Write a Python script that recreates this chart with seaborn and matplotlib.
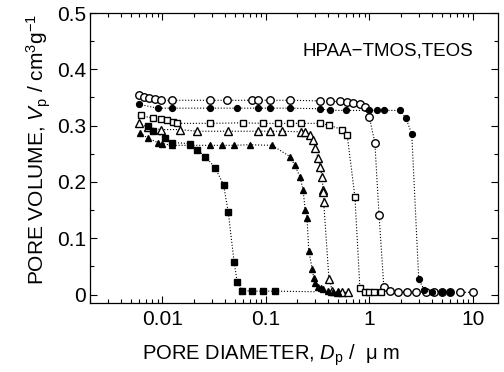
import numpy as np
import pandas as pd
import matplotlib
matplotlib.use("Agg")
import matplotlib.pyplot as plt
import seaborn as sns
from matplotlib.ticker import LogLocator, NullFormatter, MultipleLocator, FixedFormatter, FixedLocator

# pore size distribution curves
open_circle_x = [0.0059, 0.0067, 0.0075, 0.0085, 0.0098, 0.0125, 0.029, 0.042, 0.074, 0.084, 0.11, 0.17,
                 0.33, 0.42, 0.52, 0.61, 0.69, 0.81, 0.9, 1.0, 1.13, 1.24, 1.38,
                 1.6, 1.9, 2.3, 2.8, 3.5, 4.2, 5.0, 6.0, 7.5, 10.0]
open_circle_y = [0.354, 0.351, 0.349, 0.347, 0.345, 0.345, 0.345, 0.345, 0.345, 0.345, 0.345, 0.345,
                 0.344, 0.343, 0.343, 0.342, 0.340, 0.338, 0.333, 0.315, 0.270, 0.142, 0.014,
                 0.006, 0.005, 0.005, 0.005, 0.004, 0.004, 0.004, 0.004, 0.004, 0.004]

filled_circle_x = [0.0059, 0.009, 0.0125, 0.029, 0.053, 0.084, 0.11, 0.17, 0.33, 0.42, 0.6, 1.0, 1.18,
                   1.4, 1.98, 2.26, 2.57, 3.0, 3.4, 4.0, 5.0, 6.0]
filled_circle_y = [0.338, 0.331, 0.331, 0.331, 0.331, 0.331, 0.331, 0.331, 0.330, 0.327, 0.327, 0.327,
                   0.327, 0.327, 0.327, 0.313, 0.285, 0.027, 0.008, 0.005, 0.005, 0.005]

open_square_x = [0.0062, 0.0082, 0.0096, 0.0112, 0.0127, 0.014, 0.029, 0.06, 0.094, 0.13, 0.17, 0.22,
                 0.33, 0.41, 0.54, 0.61, 0.726, 0.81, 0.9, 1.0, 1.1, 1.3]
open_square_y = [0.318, 0.313, 0.312, 0.310, 0.306, 0.304, 0.304, 0.305, 0.304, 0.304, 0.304, 0.304,
                 0.304, 0.301, 0.293, 0.284, 0.173, 0.012, 0.005, 0.004, 0.004, 0.004]

open_triangle_x = [0.0059, 0.0073, 0.0096, 0.0149, 0.0218, 0.0433, 0.084, 0.11, 0.144, 0.22, 0.24,
                   0.268, 0.286, 0.30, 0.32, 0.334, 0.35, 0.357, 0.36, 0.362, 0.407, 0.44, 0.5, 0.55, 0.62]
open_triangle_y = [0.304, 0.297, 0.293, 0.293, 0.290, 0.290, 0.290, 0.290, 0.290, 0.289, 0.288,
                   0.283, 0.274, 0.260, 0.242, 0.227, 0.209, 0.186, 0.182, 0.165, 0.028, 0.006, 0.004,
                   0.004, 0.004]

filled_triangle_x = [0.0061, 0.0072, 0.009, 0.010, 0.0125, 0.0186, 0.029, 0.038, 0.049, 0.0705, 0.115,
                     0.171, 0.19, 0.214, 0.229, 0.24, 0.25, 0.26, 0.28, 0.29, 0.30, 0.32, 0.34, 0.36,
                     0.4, 0.45, 0.5]
filled_triangle_y = [0.287, 0.278, 0.270, 0.268, 0.265, 0.265, 0.265, 0.265, 0.265, 0.266, 0.265,
                     0.245, 0.230, 0.209, 0.186, 0.150, 0.136, 0.078, 0.046, 0.030, 0.021, 0.014, 0.011,
                     0.009, 0.007, 0.005, 0.005]

filled_square_x = [0.0073, 0.0082, 0.0107, 0.0125, 0.0186, 0.0218, 0.026, 0.0324, 0.039, 0.0433, 0.0494,
                   0.0528, 0.059, 0.074, 0.094, 0.123]
filled_square_y = [0.300, 0.290, 0.278, 0.270, 0.268, 0.257, 0.245, 0.225, 0.195, 0.147, 0.057,
                   0.023, 0.007, 0.006, 0.006, 0.006]
filled_square_tail_x = [0.123, 0.3]
filled_square_tail_y = [0.006, 0.005]

series = [
    ("open circle", open_circle_x, open_circle_y, "o", "white", 5.4),
    ("filled circle", filled_circle_x, filled_circle_y, "o", "black", 4.2),
    ("open square", open_square_x, open_square_y, "s", "white", 5.0),
    ("open triangle", open_triangle_x, open_triangle_y, "^", "white", 5.4),
    ("filled triangle", filled_triangle_x, filled_triangle_y, "^", "black", 5.0),
    ("filled square", filled_square_x, filled_square_y, "s", "black", 4.6),
]

sns.set_style("ticks")
plt.rcParams['font.family'] = ['Liberation Sans', 'DejaVu Sans']
plt.rcParams['mathtext.fontset'] = 'custom'
plt.rcParams['mathtext.rm'] = 'Liberation Sans'
plt.rcParams['mathtext.it'] = 'Liberation Sans:italic'
plt.rcParams['text.color'] = 'black'
plt.rcParams['axes.labelcolor'] = 'black'
plt.rcParams['xtick.color'] = 'black'
plt.rcParams['ytick.color'] = 'black'
plt.rcParams['axes.edgecolor'] = 'black'

fig = plt.figure(figsize=(5.04, 3.72), dpi=100)
ax = fig.add_axes([90 / 504, 1 - 303 / 372, 408 / 504, 290 / 372])

ax.plot(filled_square_tail_x, filled_square_tail_y, color="black", lw=0.8, ls=":")
for name, xs, ys, mk, fc, ms in series:
    df = pd.DataFrame({"x": xs, "y": ys})
    sns.lineplot(data=df, x="x", y="y", ax=ax, sort=False, estimator=None,
                 color="black", lw=0.8, ls=":", marker=mk, markersize=ms,
                 markerfacecolor=fc, markeredgecolor="black", markeredgewidth=1.0)

ax.set_xscale("log")
ax.set_xlim(0.002, 17.5)
ax.set_ylim(-0.015, 0.5)

ax.xaxis.set_major_locator(FixedLocator([0.01, 0.1, 1, 10]))
ax.xaxis.set_major_formatter(FixedFormatter(["0.01", "0.1", "1", "10"]))
ax.xaxis.set_minor_locator(LogLocator(base=10, subs=np.arange(2, 10), numticks=20))
ax.xaxis.set_minor_formatter(NullFormatter())
ax.yaxis.set_major_locator(FixedLocator([0, 0.1, 0.2, 0.3, 0.4, 0.5]))
ax.yaxis.set_major_formatter(FixedFormatter(["0", "0.1", "0.2", "0.3", "0.4", "0.5"]))
ax.yaxis.set_minor_locator(MultipleLocator(0.05))

ax.tick_params(which="both", direction="in", top=True, right=True, labelsize=15, width=0.8)
ax.tick_params(axis="x", pad=5)
ax.tick_params(axis="y", pad=3)
ax.tick_params(which="major", length=5)
ax.tick_params(which="minor", length=3)
for sp in ax.spines.values():
    sp.set_linewidth(0.9)

ax.set_xlabel(r"PORE DIAMETER, $D_\mathrm{p}$ /  μ m", fontsize=14.5, labelpad=10)
ax.set_ylabel(r"PORE VOLUME, $V_\mathrm{p}$ / cm$^3$g$^{-1}$", fontsize=15, labelpad=3)
ax.xaxis.label.set_x(0.444)
ax.yaxis.label.set_y(0.53)
ax.text(0.94, 0.87, "HPAA−TMOS,TEOS", transform=ax.transAxes, ha="right", va="center", fontsize=13.5)

fig.savefig("out.png", dpi=100)
